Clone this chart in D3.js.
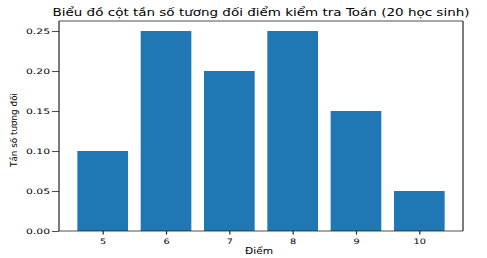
<!DOCTYPE html>
<html lang="vi">
<head>
<meta charset="UTF-8">
<title>Biểu đồ cột</title>
<script src="https://cdnjs.cloudflare.com/ajax/libs/d3/7.8.5/d3.min.js"></script>
<style>
  body { margin: 0; background: #fff; }
  text { font-family: "DejaVu Sans", sans-serif; fill: #000; }
</style>
</head>
<body>
<div id="chart"></div>
<script>
    // data
    var diem = [5, 6, 7, 8, 9, 10];
    var tanSo = [0.10, 0.25, 0.20, 0.25, 0.15, 0.05];
    var yTicks = [0.00, 0.05, 0.10, 0.15, 0.20, 0.25];
    var title = "Biểu đồ cột tần số tương đối điểm kiểm tra Toán (20 học sinh)";
    var xLabel = "Điểm";
    var yLabel = "Tần số tương đối";

    var W = 487, H = 258;
    var margin = { top: 21, right: 24, bottom: 27, left: 59 };
    var iw = W - margin.left - margin.right;
    var ih = H - margin.top - margin.bottom;

    var svg = d3.select("#chart").append("svg")
        .attr("width", W)
        .attr("height", H);

    var g = svg.append("g")
        .attr("transform", "translate(" + margin.left + "," + margin.top + ")");

    // bars 0.8 wide, 5% padding like matplotlib
    var x = d3.scaleLinear().domain([4.31, 10.69]).range([0, iw]);
    var y = d3.scaleLinear().domain([0, 0.2625]).range([ih, 0]);

    g.selectAll("rect.bar")
        .data(diem)
        .enter()
        .append("rect")
        .attr("class", "bar")
        .attr("x", (d) => x(d - 0.4))
        .attr("width", (d) => x(d + 0.4) - x(d - 0.4))
        .attr("y", (d, i) => y(tanSo[i]))
        .attr("height", (d, i) => y(0) - y(tanSo[i]))
        .attr("fill", "#1f77b4");

    // the picture is stretched sideways, so text is wide and short
    var xAxis = g.append("g")
        .attr("transform", "translate(0," + ih + ")")
        .call(d3.axisBottom(x).tickValues(diem).tickSize(3.5).tickPadding(4).tickFormat(d3.format("d")));
    xAxis.selectAll("line").attr("stroke-width", 1.2);
    xAxis.selectAll("text")
        .attr("dy", "0.75em")
        .attr("lengthAdjust", "spacingAndGlyphs")
        .attr("textLength", (d) => String(d).length * 6.2);

    var yAxis = g.append("g")
        .call(d3.axisLeft(y).tickValues(yTicks).tickSize(7).tickPadding(2).tickFormat(d3.format(".2f")));
    yAxis.selectAll("line").attr("stroke-width", 0.8);
    yAxis.selectAll("text")
        .attr("lengthAdjust", "spacingAndGlyphs")
        .attr("textLength", 24);

    [xAxis, yAxis].forEach(function (ax) {
        ax.select(".domain").remove();
        ax.selectAll("line").attr("stroke", "#222");
        ax.selectAll("text").style("font-size", "7.5px").style("font-family", "DejaVu Sans").attr("fill", "#222");
    });

    // frame: vertical sides look thicker after the stretch
    g.append("line").attr("x1", 0).attr("x2", iw).attr("y1", 0).attr("y2", 0)
        .attr("stroke", "#222").attr("stroke-width", 0.8);
    g.append("line").attr("x1", 0).attr("x2", iw).attr("y1", ih).attr("y2", ih)
        .attr("stroke", "#222").attr("stroke-width", 0.8);
    g.append("line").attr("x1", 0).attr("x2", 0).attr("y1", 0).attr("y2", ih)
        .attr("stroke", "#222").attr("stroke-width", 1.2);
    g.append("line").attr("x1", iw).attr("x2", iw).attr("y1", 0).attr("y2", ih)
        .attr("stroke", "#222").attr("stroke-width", 1.2);

    svg.append("text")
        .attr("x", margin.left + iw / 2)
        .attr("y", 16)
        .attr("text-anchor", "middle")
        .attr("textLength", 417)
        .attr("lengthAdjust", "spacingAndGlyphs")
        .attr("fill", "#222")
        .style("font-size", "11px")
        .text(title);

    svg.append("text")
        .attr("x", 259)
        .attr("y", 254)
        .attr("text-anchor", "middle")
        .attr("textLength", 28)
        .attr("lengthAdjust", "spacingAndGlyphs")
        .attr("fill", "#222")
        .style("font-size", "8.5px")
        .text(xLabel);

    svg.append("text")
        .attr("transform", "translate(16.5," + (margin.top + ih / 2 + 4) + ") rotate(-90)")
        .attr("text-anchor", "middle")
        .attr("textLength", 74)
        .attr("lengthAdjust", "spacingAndGlyphs")
        .attr("fill", "#222")
        .style("font-size", "8px")
        .text(yLabel);
</script>
</body>
</html>
